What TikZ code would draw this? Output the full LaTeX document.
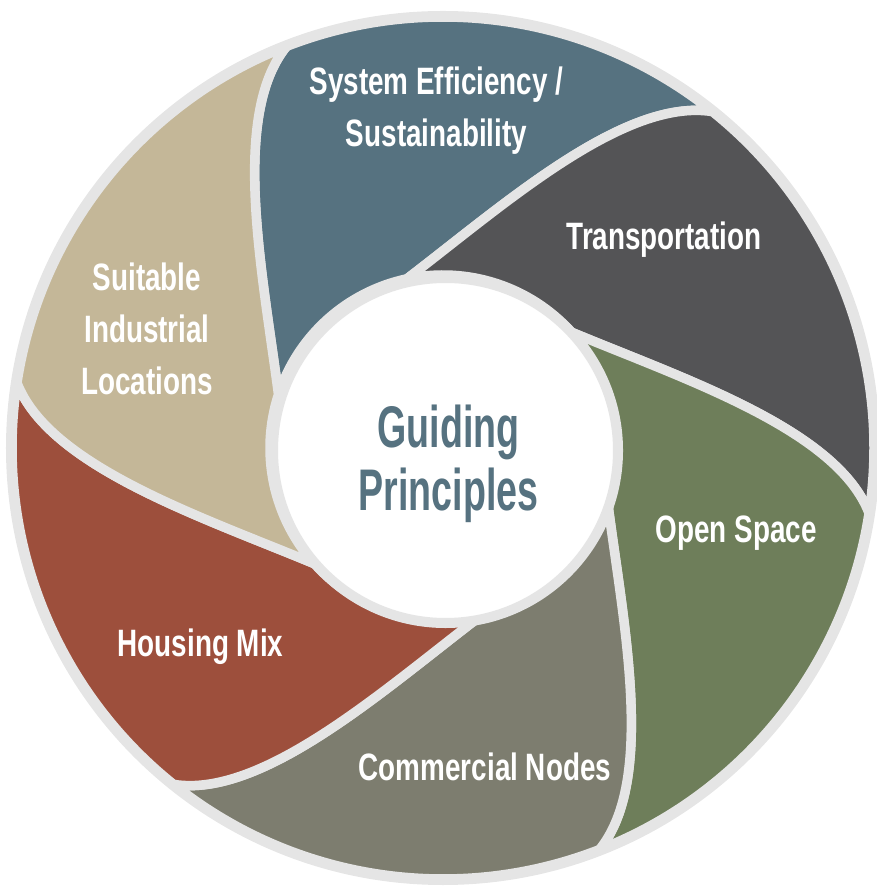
\documentclass[tikz,border=0pt]{standalone}
\usepackage{fontspec}
\usepackage{tikz}

\newfontfamily\petalfont{Liberation Sans}[FakeStretch=0.73]
\newfontfamily\hubfont{Liberation Sans}[FakeStretch=0.64]

\definecolor{rimgrey}{RGB}{229,229,229}
\definecolor{slate}{RGB}{86,114,128}
\definecolor{charcoal}{RGB}{84,84,86}
\definecolor{moss}{RGB}{110,126,90}
\definecolor{stone}{RGB}{125,125,111}
\definecolor{brick}{RGB}{157,79,60}
\definecolor{sand}{RGB}{196,183,152}

\tikzset{petal/.style={draw=rimgrey,line width=2.7pt,line join=round},
  petallabel/.style={text=white,align=center,inner sep=0pt,
    font=\petalfont\bfseries\fontsize{10.85}{14.8}\selectfont},
  hublabel/.style={text=slate,align=center,inner sep=0pt,
    font=\hubfont\bfseries\fontsize{16.7}{17.9}\selectfont}}

% one swirl of the ring, turned by #1
\newcommand{\petalshape}[2]{%
  \filldraw[petal,fill=#2,rotate=#1] (-50.7:431)
    arc[start angle=-50.7,end angle=-110.7,radius=431]
    .. controls (-99.3:394.4) and (-86:250.4) .. (-60:173)
    arc[start angle=-60,end angle=0,radius=173]
    .. controls (-26:250.4) and (-39.3:394.4) .. (-50.7:431) -- cycle;}

\begin{document}
\begin{tikzpicture}[x=0.01cm,y=0.01cm,line cap=round]

  \useasboundingbox (-443,-438) rectangle (433,448);

  \fill [rimgrey] (0,0) circle [radius=437];

  \petalshape{162}{slate}
  \petalshape{102}{charcoal}
  \petalshape{42}{moss}
  \petalshape{-18}{stone}
  \petalshape{-78}{brick}
  \petalshape{-138}{sand}

  \filldraw [fill=white,draw=rimgrey,line width=2.85pt] (2.5,-2.5) circle [radius=172.5];


  \draw (-6.5,337.5) node [petallabel] (efficiency) {System Efficiency /\\Sustainability};
  \draw (221,198) node [petallabel,anchor=base] (transport) {Transportation};
  \draw (293,-95) node [petallabel,anchor=base] (openspace) {Open Space};
  \draw (42,-332) node [petallabel,anchor=base] (commercial) {Commercial Nodes};
  \draw (-242.5,-208) node [petallabel,anchor=base] (housing) {Housing Mix};
  \draw (-296,119) node [petallabel] (industrial) {Suitable\\Industrial\\Locations};

  \draw (5.5,-15.5) node [hublabel] (hub) {Guiding\\Principles};

\end{tikzpicture}
\end{document}
